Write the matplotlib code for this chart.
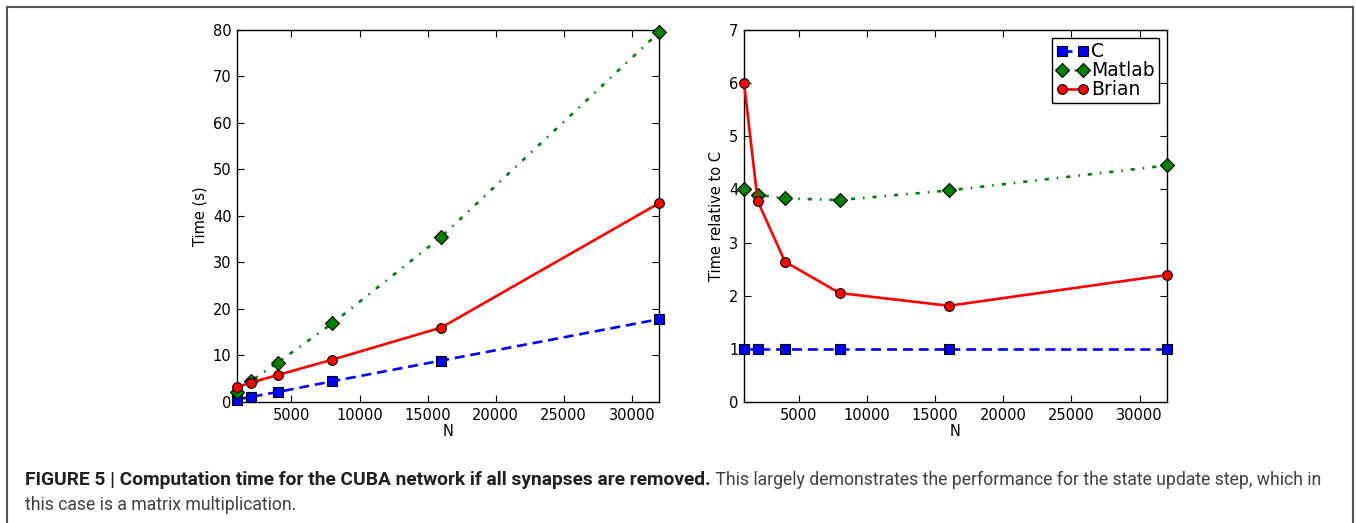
import matplotlib
matplotlib.use("Agg")
import matplotlib.pyplot as plt
from matplotlib.lines import Line2D

plt.rcParams["font.family"] = "DejaVu Sans"

# network sizes
N = [1000, 2000, 4000, 8000, 16000, 32000]

# absolute run times (s)
time_c = [0.53, 1.08, 2.15, 4.45, 8.9, 17.8]
time_matlab = [2.15, 4.45, 8.47, 16.9, 35.5, 79.5]
time_brian = [3.2, 4.16, 5.8, 9.1, 16.0, 42.75]

# times relative to C
rel_c = [1.0, 1.0, 1.0, 1.0, 1.0, 1.0]
rel_matlab = [4.0, 3.9, 3.83, 3.8, 3.98, 4.45]
rel_brian = [6.0, 3.78, 2.64, 2.05, 1.81, 2.39]

labels = ["C", "Matlab", "Brian"]
xticks = [5000, 10000, 15000, 20000, 25000, 30000]

fs = 10.5
fig = plt.figure(figsize=(13.56, 5.23), dpi=100)

styles = [
    dict(color="#0000ff", ls=(0, (3.8, 2.2)), marker="s", ms=7),
    dict(color="#007f00", ls=(0, (1.6, 3, 0.6, 3)), marker="D", ms=7),
    dict(color="#ff0000", ls="-", marker="o", ms=7),
]


def draw(ax, series, ylim, yticks, ylabel):
    for y, lab, st in zip(series, labels, styles):
        ax.plot(N, y, color=st["color"], linestyle=st["ls"], lw=1.9,
                marker=st["marker"], markersize=st["ms"],
                markerfacecolor=st["color"], markeredgecolor="black",
                markeredgewidth=0.8, label=lab, clip_on=False, zorder=3)
    ax.set_xlim(1000, 32000)
    ax.set_ylim(*ylim)
    ax.set_xticks(xticks)
    ax.set_yticks(yticks)
    ax.tick_params(direction="in", length=5, width=0.8, top=True, right=True,
                   labelsize=fs, pad=4, colors="black")
    for s in ax.spines.values():
        s.set_linewidth(1.0)
    ax.set_xlabel("N", fontsize=fs, labelpad=1)
    ax.set_ylabel(ylabel, fontsize=fs, labelpad=4)


ax1 = fig.add_axes([0.1748, 0.2314, 0.3112, 0.7113])
draw(ax1, [time_c, time_matlab, time_brian], (0, 80), range(0, 81, 10), "Time (s)")

ax2 = fig.add_axes([0.5487, 0.2314, 0.3119, 0.7113])
draw(ax2, [rel_c, rel_matlab, rel_brian], (0, 7), range(0, 8), "Time relative to C")
leg = ax2.legend(loc="upper right", numpoints=2, fontsize=13.5, fancybox=False,
                 framealpha=1, edgecolor="black", borderpad=0.2, labelspacing=0.0,
                 handlelength=1.72, handletextpad=0.15, borderaxespad=0.45)
leg.get_frame().set_linewidth(1.0)

# outer frame (top, left, right)
fc = "#555555"
fig.add_artist(Line2D([7 / 1356, 1353 / 1356], [1 - 7 / 523, 1 - 7 / 523],
                      transform=fig.transFigure, color=fc, lw=1.5))
fig.add_artist(Line2D([7 / 1356, 7 / 1356], [0, 1 - 7 / 523],
                      transform=fig.transFigure, color=fc, lw=1.5))
fig.add_artist(Line2D([1353 / 1356, 1353 / 1356], [0, 1 - 7 / 523],
                      transform=fig.transFigure, color=fc, lw=1.5))

# caption
cap_bold = "FIGURE 5 | Computation time for the CUBA network if all synapses are removed."
cap_rest = " This largely demonstrates the performance for the state update step, which in"
cap_line2 = "this case is a matrix multiplication."
cfam = "Roboto"
y1 = 1 - 485 / 523
y2 = 1 - 510 / 523
x0 = 25 / 1356
t1 = fig.text(x0, y1, cap_bold, fontsize=13.75, fontweight="bold", family=cfam,
              color="#231f20", va="baseline")
fig.canvas.draw()
bb = t1.get_window_extent(renderer=fig.canvas.get_renderer())
x1 = bb.x1 / fig.bbox.width
fig.text(x1, y1, cap_rest, fontsize=12.7, family=cfam, color="#404040", va="baseline")
fig.text(x0, y2, cap_line2, fontsize=12.7, family=cfam, color="#404040", va="baseline")

fig.savefig("out.png", dpi=100)
